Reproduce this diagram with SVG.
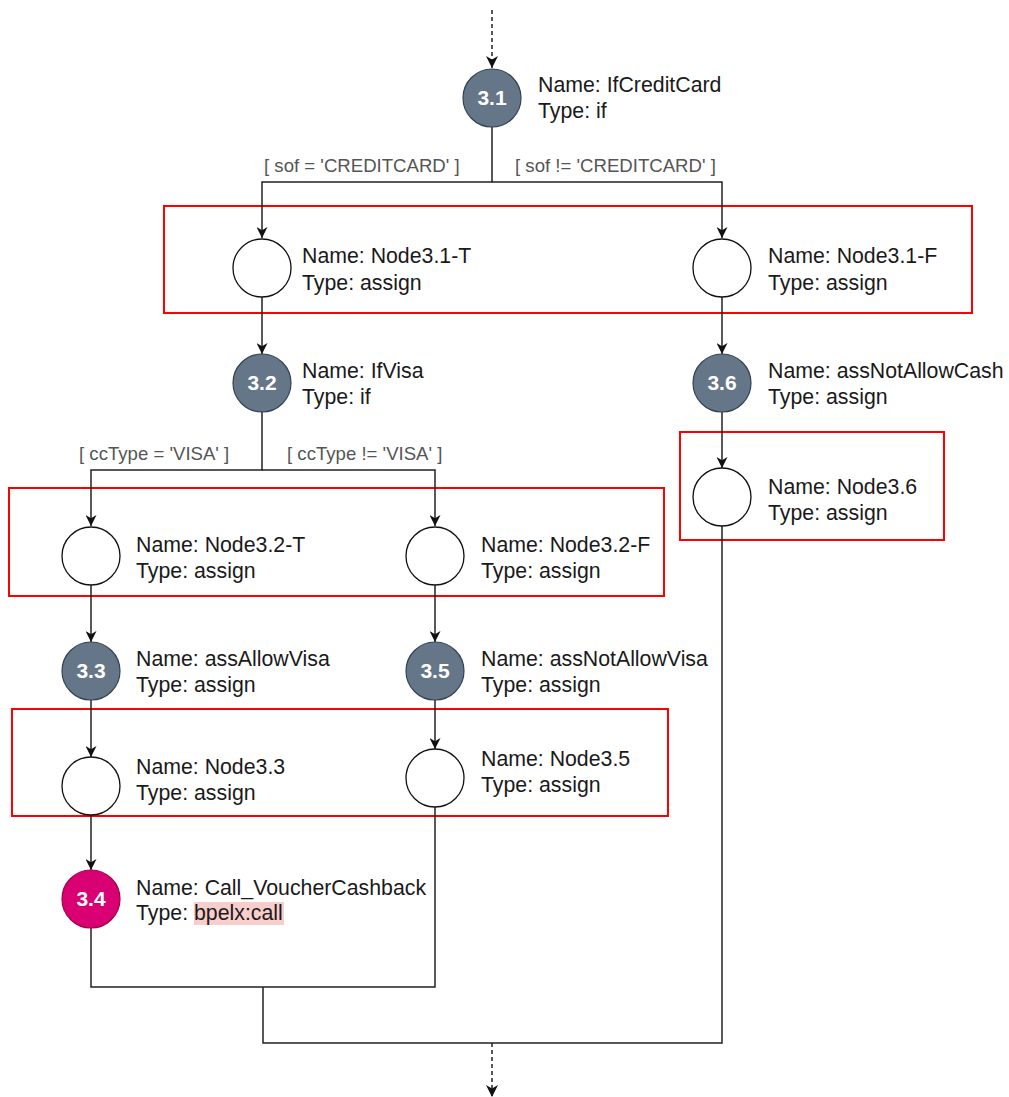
<svg xmlns="http://www.w3.org/2000/svg" width="1009" height="1097" viewBox="0 0 1009 1097">
<style>
.t{font-family:"Liberation Sans",Arial,Helvetica,sans-serif;font-size:21.3px;fill:#1a1a1a}
.lbl{font-family:"Liberation Sans",Arial,Helvetica,sans-serif;font-size:18.6px;fill:#555}
.num{font-family:"Liberation Sans",Arial,Helvetica,sans-serif;font-size:21px;font-weight:bold;fill:#fff;text-anchor:middle}
.act{fill:#647687;stroke:#314354;stroke-width:1.2}
.call{fill:#d80073;stroke:#a50040;stroke-width:1.2}
.wn{fill:#fff;stroke:#111;stroke-width:1.3}
.box{fill:none;stroke:#ff0000;stroke-width:2}
.ln{fill:none;stroke:#222;stroke-width:1.5}
.dash{fill:none;stroke:#222;stroke-width:1.5;stroke-dasharray:4 3}
</style>
<defs>
<marker id="arrb" viewBox="0 0 10 10" refX="10" refY="5" markerWidth="11" markerHeight="11" markerUnits="userSpaceOnUse" orient="auto">
<path d="M0,0 L10,5 L0,10 L3,5 z" fill="#111"/>
</marker>
<marker id="arrd" viewBox="0 0 10 10" refX="10" refY="5" markerWidth="12" markerHeight="12" markerUnits="userSpaceOnUse" orient="auto">
<path d="M0,0 L10,5 L0,10 L3,5 z" fill="#111"/>
</marker>
</defs>

<g id="highlights">
<rect class="box" x="164" y="206" width="808" height="107"/>
<rect class="box" x="680" y="432" width="264" height="108"/>
<rect class="box" x="9" y="488" width="655" height="108"/>
<rect class="box" x="12" y="709" width="656" height="107"/>
</g>

<g id="connectors">
<path class="dash" d="M492,10 V68" marker-end="url(#arrd)"/>
<path class="ln" d="M492,127 V182 H262 V238" marker-end="url(#arrb)"/>
<path class="ln" d="M492,182 H722 V238" marker-end="url(#arrb)"/>
<path class="ln" d="M262,297 V354" marker-end="url(#arrb)"/>
<path class="ln" d="M722,297 V354" marker-end="url(#arrb)"/>
<path class="ln" d="M262,412 V470 H91 V526" marker-end="url(#arrb)"/>
<path class="ln" d="M262,470 H435 V526" marker-end="url(#arrb)"/>
<path class="ln" d="M722,412 V468" marker-end="url(#arrb)"/>
<path class="ln" d="M91,585 V642" marker-end="url(#arrb)"/>
<path class="ln" d="M435,585 V642" marker-end="url(#arrb)"/>
<path class="ln" d="M91,700 V757" marker-end="url(#arrb)"/>
<path class="ln" d="M435,700 V749" marker-end="url(#arrb)"/>
<path class="ln" d="M91,815 V870" marker-end="url(#arrb)"/>
<path class="ln" d="M91,928 V987 H435 V807"/>
<path class="ln" d="M263,987 V1043 H722 V526"/>
<path class="dash" d="M492,1043 V1097" marker-end="url(#arrd)"/>
<text class="lbl" x="264" y="172">[ sof = 'CREDITCARD' ]</text>
<text class="lbl" x="515" y="172">[ sof != 'CREDITCARD' ]</text>
<text class="lbl" x="79" y="460">[ ccType = 'VISA' ]</text>
<text class="lbl" x="287" y="460">[ ccType != 'VISA' ]</text>
</g>

<g id="n3.1">
<circle class="act" cx="492" cy="98" r="29"/>
<text class="num" x="492" y="105">3.1</text>
<text class="t" x="538" y="92">Name: IfCreditCard</text>
<text class="t" x="538" y="118">Type: if</text>
</g>

<g id="node3.1-T">
<circle class="wn" cx="262" cy="268" r="29"/>
<text class="t" x="302" y="263">Name: Node3.1-T</text>
<text class="t" x="302" y="290">Type: assign</text>
</g>

<g id="node3.1-F">
<circle class="wn" cx="722" cy="268" r="29"/>
<text class="t" x="768" y="263">Name: Node3.1-F</text>
<text class="t" x="768" y="290">Type: assign</text>
</g>

<g id="n3.2">
<circle class="act" cx="262" cy="383" r="29"/>
<text class="num" x="262" y="390">3.2</text>
<text class="t" x="302" y="378">Name: IfVisa</text>
<text class="t" x="302" y="404">Type: if</text>
</g>

<g id="n3.6">
<circle class="act" cx="722" cy="383" r="29"/>
<text class="num" x="722" y="390">3.6</text>
<text class="t" x="768" y="378">Name: assNotAllowCash</text>
<text class="t" x="768" y="404">Type: assign</text>
</g>

<g id="node3.6">
<circle class="wn" cx="722" cy="497" r="29"/>
<text class="t" x="768" y="494">Name: Node3.6</text>
<text class="t" x="768" y="520">Type: assign</text>
</g>

<g id="node3.2-T">
<circle class="wn" cx="91" cy="556" r="29"/>
<text class="t" x="136" y="552">Name: Node3.2-T</text>
<text class="t" x="136" y="578">Type: assign</text>
</g>

<g id="node3.2-F">
<circle class="wn" cx="435" cy="556" r="29"/>
<text class="t" x="481" y="552">Name: Node3.2-F</text>
<text class="t" x="481" y="578">Type: assign</text>
</g>

<g id="n3.3">
<circle class="act" cx="91" cy="671" r="29"/>
<text class="num" x="91" y="678">3.3</text>
<text class="t" x="136" y="666">Name: assAllowVisa</text>
<text class="t" x="136" y="692">Type: assign</text>
</g>

<g id="n3.5">
<circle class="act" cx="435" cy="671" r="29"/>
<text class="num" x="435" y="678">3.5</text>
<text class="t" x="481" y="666">Name: assNotAllowVisa</text>
<text class="t" x="481" y="692">Type: assign</text>
</g>

<g id="node3.3">
<circle class="wn" cx="91" cy="786" r="29"/>
<text class="t" x="136" y="774">Name: Node3.3</text>
<text class="t" x="136" y="800">Type: assign</text>
</g>

<g id="node3.5">
<circle class="wn" cx="435" cy="778" r="29"/>
<text class="t" x="481" y="766">Name: Node3.5</text>
<text class="t" x="481" y="792">Type: assign</text>
</g>

<g id="n3.4">
<circle class="call" cx="91" cy="899" r="29"/>
<text class="num" x="91" y="906">3.4</text>
<text class="t" x="136" y="895">Name: Call_VoucherCashback</text>
<rect x="194" y="902" width="90" height="23" fill="#f8cecc"/>
<text class="t" x="136" y="920">Type: bpelx:call</text>
</g>
</svg>
